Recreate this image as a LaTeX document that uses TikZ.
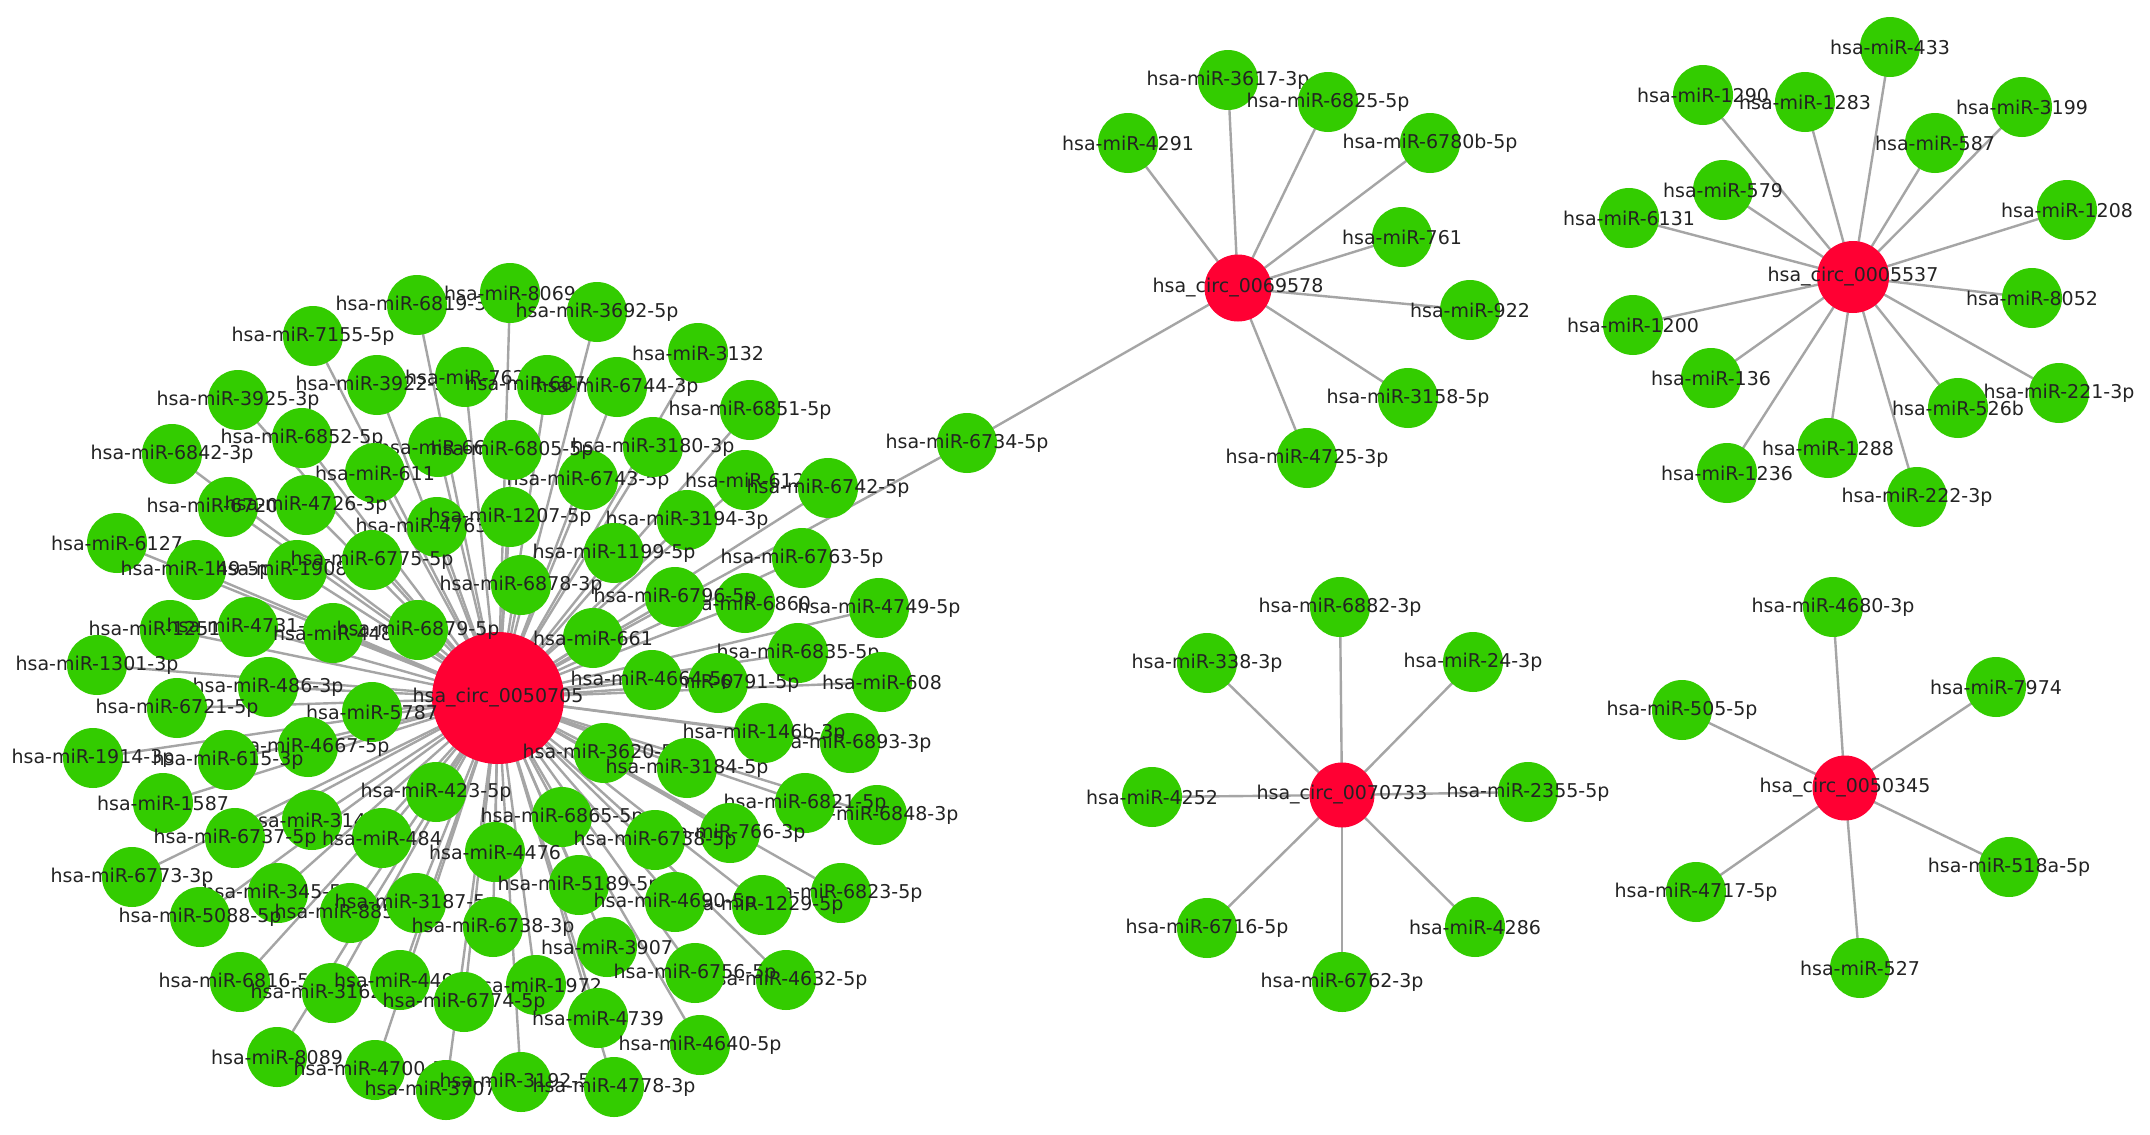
\documentclass[tikz,border=0pt]{standalone}
\usepackage{fontspec}
\setmainfont{DejaVu Sans}
\usetikzlibrary{shapes.geometric}
\pgfdeclarelayer{bg}
\pgfsetlayers{bg,main}
\definecolor{mirgreen}{RGB}{51,204,0}
\definecolor{circred}{RGB}{255,0,51}
\definecolor{edgegray}{RGB}{165,165,165}
\definecolor{labtext}{RGB}{35,35,35}
\tikzset{
  mir/.style={circle, fill=mirgreen, draw=none, inner sep=0pt, minimum size=60pt},
  circ/.style={circle, fill=circred, draw=none, inner sep=0pt},
  lab/.style={font=\fontsize{19}{19}\selectfont, text=labtext, inner sep=0pt},
  edge/.style={draw=edgegray, line width=2.4pt}
}
\newcommand\mn[4]{\node[mir,label={[lab]center:#4}] (#1) at (#2,#3) {};}
\begin{document}
\begin{tikzpicture}[x=1pt,y=-1pt]
\useasboundingbox (0,0) rectangle (2150,1135);
\begin{pgfonlayer}{bg}
\fill[white] (0,0) rectangle (2150,1135);
\end{pgfonlayer}

% ---------- left cluster ----------
\node[circ, minimum size=132pt, label={[lab]center:hsa\_circ\_0050705}] (C1) at (498,698) {};
\mn{m6819}{417}{305}{hsa-miR-6819-3p}
\mn{m8069}{510}{293}{hsa-miR-8069}
\mn{m3692}{597}{312}{hsa-miR-3692-5p}
\mn{m7155}{313}{336}{hsa-miR-7155-5p}
\mn{m3132}{698}{353}{hsa-miR-3132}
\mn{m3925}{238}{400}{hsa-miR-3925-3p}
\mn{m3922}{377}{385}{hsa-miR-3922-3p}
\mn{m762}{465}{377}{hsa-miR-762}
\mn{m6870}{547}{385}{hsa-miR-6870-5p}
\mn{m6744}{617}{387}{hsa-miR-6744-3p}
\mn{m6851}{750}{410}{hsa-miR-6851-5p}
\mn{m6842}{172}{454}{hsa-miR-6842-3p}
\mn{m6852}{302}{438}{hsa-miR-6852-5p}
\mn{m665}{438}{447}{hsa-miR-665}
\mn{m6743}{588}{480}{hsa-miR-6743-5p}
\mn{m6805}{512}{450}{hsa-miR-6805-5p}
\mn{m3180}{653}{447}{hsa-miR-3180-3p}
\mn{m611}{375}{473}{hsa-miR-611}
\mn{m612}{745}{480}{hsa-miR-612}
\mn{m6742}{828}{488}{hsa-miR-6742-5p}
\mn{m6720}{228}{507}{hsa-miR-6720-3p}
\mn{m4726}{306}{505}{hsa-miR-4726-3p}
\mn{m4763}{437}{527}{hsa-miR-4763-3p}
\mn{m1207}{510}{517}{hsa-miR-1207-5p}
\mn{m3194}{687}{520}{hsa-miR-3194-3p}
\mn{m6127}{117}{543}{hsa-miR-6127}
\mn{m149}{196}{570}{hsa-miR-149-5p}
\mn{m1908}{297}{570}{hsa-miR-1908-5p}
\mn{m6775}{372}{560}{hsa-miR-6775-5p}
\mn{m1199}{614}{553}{hsa-miR-1199-5p}
\mn{m6763}{802}{558}{hsa-miR-6763-5p}
\mn{m6878}{521}{585}{hsa-miR-6878-3p}
\mn{m6860}{745}{603}{hsa-miR-6860}
\mn{m6796}{675}{597}{hsa-miR-6796-5p}
\mn{m4749}{879}{608}{hsa-miR-4749-5p}
\mn{m1251}{170}{630}{hsa-miR-1251-3p}
\mn{m4731}{248}{627}{hsa-miR-4731-5p}
\mn{m448}{333}{633}{hsa-miR-448}
\mn{m6879}{418}{630}{hsa-miR-6879-5p}
\mn{m661}{593}{638}{hsa-miR-661}
\mn{m6835}{798}{653}{hsa-miR-6835-5p}
\mn{m1301}{97}{665}{hsa-miR-1301-3p}
\mn{m6791}{718}{683}{hsa-miR-6791-5p}
\mn{m4664}{652}{680}{hsa-miR-4664-5p}
\mn{m608}{882}{682}{hsa-miR-608}
\mn{m486}{268}{687}{hsa-miR-486-3p}
\mn{m6721}{177}{708}{hsa-miR-6721-5p}
\mn{m5787}{372}{712}{hsa-miR-5787}
\mn{m6893}{850}{743}{hsa-miR-6893-3p}
\mn{m146b}{764}{733}{hsa-miR-146b-3p}
\mn{m4667}{308}{747}{hsa-miR-4667-5p}
\mn{m3620}{604}{753}{hsa-miR-3620-5p}
\mn{m1914}{93}{758}{hsa-miR-1914-3p}
\mn{m615}{228}{760}{hsa-miR-615-3p}
\mn{m3184}{687}{768}{hsa-miR-3184-5p}
\mn{m423}{436}{792}{hsa-miR-423-5p}
\mn{m1587}{163}{803}{hsa-miR-1587}
\mn{m6848}{877}{815}{hsa-miR-6848-3p}
\mn{m6821}{805}{803}{hsa-miR-6821-5p}
\mn{m6865}{562}{817}{hsa-miR-6865-5p}
\mn{m3147}{312}{820}{hsa-miR-3147}
\mn{m6737}{235}{838}{hsa-miR-6737-5p}
\mn{m484}{382}{838}{hsa-miR-484}
\mn{m4476}{495}{852}{hsa-miR-4476}
\mn{m766}{730}{833}{hsa-miR-766-3p}
\mn{m6738a}{655}{840}{hsa-miR-6738-5p}
\mn{m6773}{132}{877}{hsa-miR-6773-3p}
\mn{m345}{278}{893}{hsa-miR-345-5p}
\mn{m885}{350}{913}{hsa-miR-885-3p}
\mn{m3187}{416}{903}{hsa-miR-3187-5p}
\mn{m5189}{579}{885}{hsa-miR-5189-5p}
\mn{m6823}{841}{893}{hsa-miR-6823-5p}
\mn{m1229}{762}{905}{hsa-miR-1229-5p}
\mn{m4690}{675}{902}{hsa-miR-4690-5p}
\mn{m5088}{200}{917}{hsa-miR-5088-5p}
\mn{m6738b}{493}{927}{hsa-miR-6738-3p}
\mn{m3907}{607}{947}{hsa-miR-3907}
\mn{m6816}{240}{982}{hsa-miR-6816-5p}
\mn{m3162}{332}{993}{hsa-miR-3162-5p}
\mn{m4498}{400}{980}{hsa-miR-4498}
\mn{m1972}{536}{985}{hsa-miR-1972}
\mn{m4632}{786}{980}{hsa-miR-4632-5p}
\mn{m6756}{695}{973}{hsa-miR-6756-5p}
\mn{m6774}{464}{1002}{hsa-miR-6774-5p}
\mn{m4739}{598}{1018}{hsa-miR-4739}
\mn{m8089}{277}{1057}{hsa-miR-8089}
\mn{m4700}{375}{1070}{hsa-miR-4700-5p}
\mn{m4640}{700}{1045}{hsa-miR-4640-5p}
\mn{m3707}{446}{1090}{hsa-miR-3707-3p}
\mn{m3192}{521}{1082}{hsa-miR-3192-5p}
\mn{m4778}{614}{1087}{hsa-miR-4778-3p}
\mn{m6734}{967}{443}{hsa-miR-6734-5p}

% ---------- circ_0069578 ----------
\node[circ, minimum size=67pt, label={[lab]center:hsa\_circ\_0069578}] (C2) at (1238,288) {};
\mn{m3617}{1228}{80}{hsa-miR-3617-3p}
\mn{m6825}{1328}{102}{hsa-miR-6825-5p}
\mn{m4291}{1128}{143}{hsa-miR-4291}
\mn{m6780b}{1430}{143}{hsa-miR-6780b-5p}
\mn{m761}{1402}{237}{hsa-miR-761}
\mn{m922}{1470}{310}{hsa-miR-922}
\mn{m3158}{1408}{398}{hsa-miR-3158-5p}
\mn{m4725}{1307}{458}{hsa-miR-4725-3p}

% ---------- circ_0005537 ----------
\node[circ, minimum size=72pt, label={[lab]center:hsa\_circ\_0005537}] (C3) at (1853,277) {};
\mn{m433}{1890}{47}{hsa-miR-433}
\mn{m1290}{1703}{95}{hsa-miR-1290}
\mn{m1283}{1805}{102}{hsa-miR-1283}
\mn{m3199}{2022}{107}{hsa-miR-3199}
\mn{m587}{1935}{143}{hsa-miR-587}
\mn{m579}{1723}{190}{hsa-miR-579}
\mn{m6131}{1629}{218}{hsa-miR-6131}
\mn{m1208}{2067}{210}{hsa-miR-1208}
\mn{m8052}{2032}{298}{hsa-miR-8052}
\mn{m1200}{1633}{325}{hsa-miR-1200}
\mn{m136}{1711}{378}{hsa-miR-136}
\mn{m221}{2059}{393}{hsa-miR-221-3p}
\mn{m526b}{1958}{408}{hsa-miR-526b}
\mn{m1288}{1828}{448}{hsa-miR-1288}
\mn{m1236}{1727}{473}{hsa-miR-1236}
\mn{m222}{1917}{497}{hsa-miR-222-3p}

% ---------- circ_0070733 ----------
\node[circ, minimum size=65pt, label={[lab]center:hsa\_circ\_0070733}] (C4) at (1342,795) {};
\mn{m6882}{1340}{607}{hsa-miR-6882-3p}
\mn{m338}{1207}{663}{hsa-miR-338-3p}
\mn{m24}{1473}{662}{hsa-miR-24-3p}
\mn{m4252}{1152}{797}{hsa-miR-4252}
\mn{m2355}{1528}{792}{hsa-miR-2355-5p}
\mn{m6716}{1207}{928}{hsa-miR-6716-5p}
\mn{m4286}{1475}{927}{hsa-miR-4286}
\mn{m6762}{1342}{982}{hsa-miR-6762-3p}

% ---------- circ_0050345 ----------
\node[circ, minimum size=65pt, label={[lab]center:hsa\_circ\_0050345}] (C5) at (1845,788) {};
\mn{m4680}{1833}{607}{hsa-miR-4680-3p}
\mn{m7974}{1996}{687}{hsa-miR-7974}
\mn{m505}{1682}{710}{hsa-miR-505-5p}
\mn{m518a}{2009}{867}{hsa-miR-518a-5p}
\mn{m4717}{1696}{892}{hsa-miR-4717-5p}
\mn{m527}{1860}{968}{hsa-miR-527}

% ---------- edges ----------
\begin{pgfonlayer}{bg}
\foreach \n in {m6819,m8069,m3692,m7155,m3132,m3925,m3922,m762,m6870,m6744,m6851,m6842,m6852,m665,m6805,m3180,m611,m6743,m612,m6742,m6720,m4726,m4763,m1207,m3194,m6127,m149,m1908,m6775,m1199,m6763,m6878,m6796,m6860,m4749,m1251,m4731,m448,m6879,m661,m6835,m1301,m4664,m6791,m608,m486,m6721,m5787,m146b,m6893,m4667,m3620,m1914,m615,m3184,m423,m1587,m6821,m6848,m6865,m3147,m6737,m484,m4476,m6738a,m766,m6773,m345,m885,m3187,m5189,m4690,m1229,m6823,m5088,m6738b,m3907,m6816,m3162,m4498,m1972,m6756,m4632,m6774,m4739,m8089,m4700,m4640,m3707,m3192,m4778,m6734}
  \draw[edge] (C1.center) -- (\n.center);
\draw[edge] (m6734.center) -- (C2.center);
\foreach \n in {m3617,m6825,m4291,m6780b,m761,m922,m3158,m4725}
  \draw[edge] (C2.center) -- (\n.center);
\foreach \n in {m433,m1290,m1283,m3199,m587,m579,m6131,m1208,m8052,m1200,m136,m221,m526b,m1288,m1236,m222}
  \draw[edge] (C3.center) -- (\n.center);
\foreach \n in {m6882,m338,m24,m4252,m2355,m6716,m4286,m6762}
  \draw[edge] (C4.center) -- (\n.center);
\foreach \n in {m4680,m7974,m505,m518a,m4717,m527}
  \draw[edge] (C5.center) -- (\n.center);
\end{pgfonlayer}
\end{tikzpicture}
\end{document}
